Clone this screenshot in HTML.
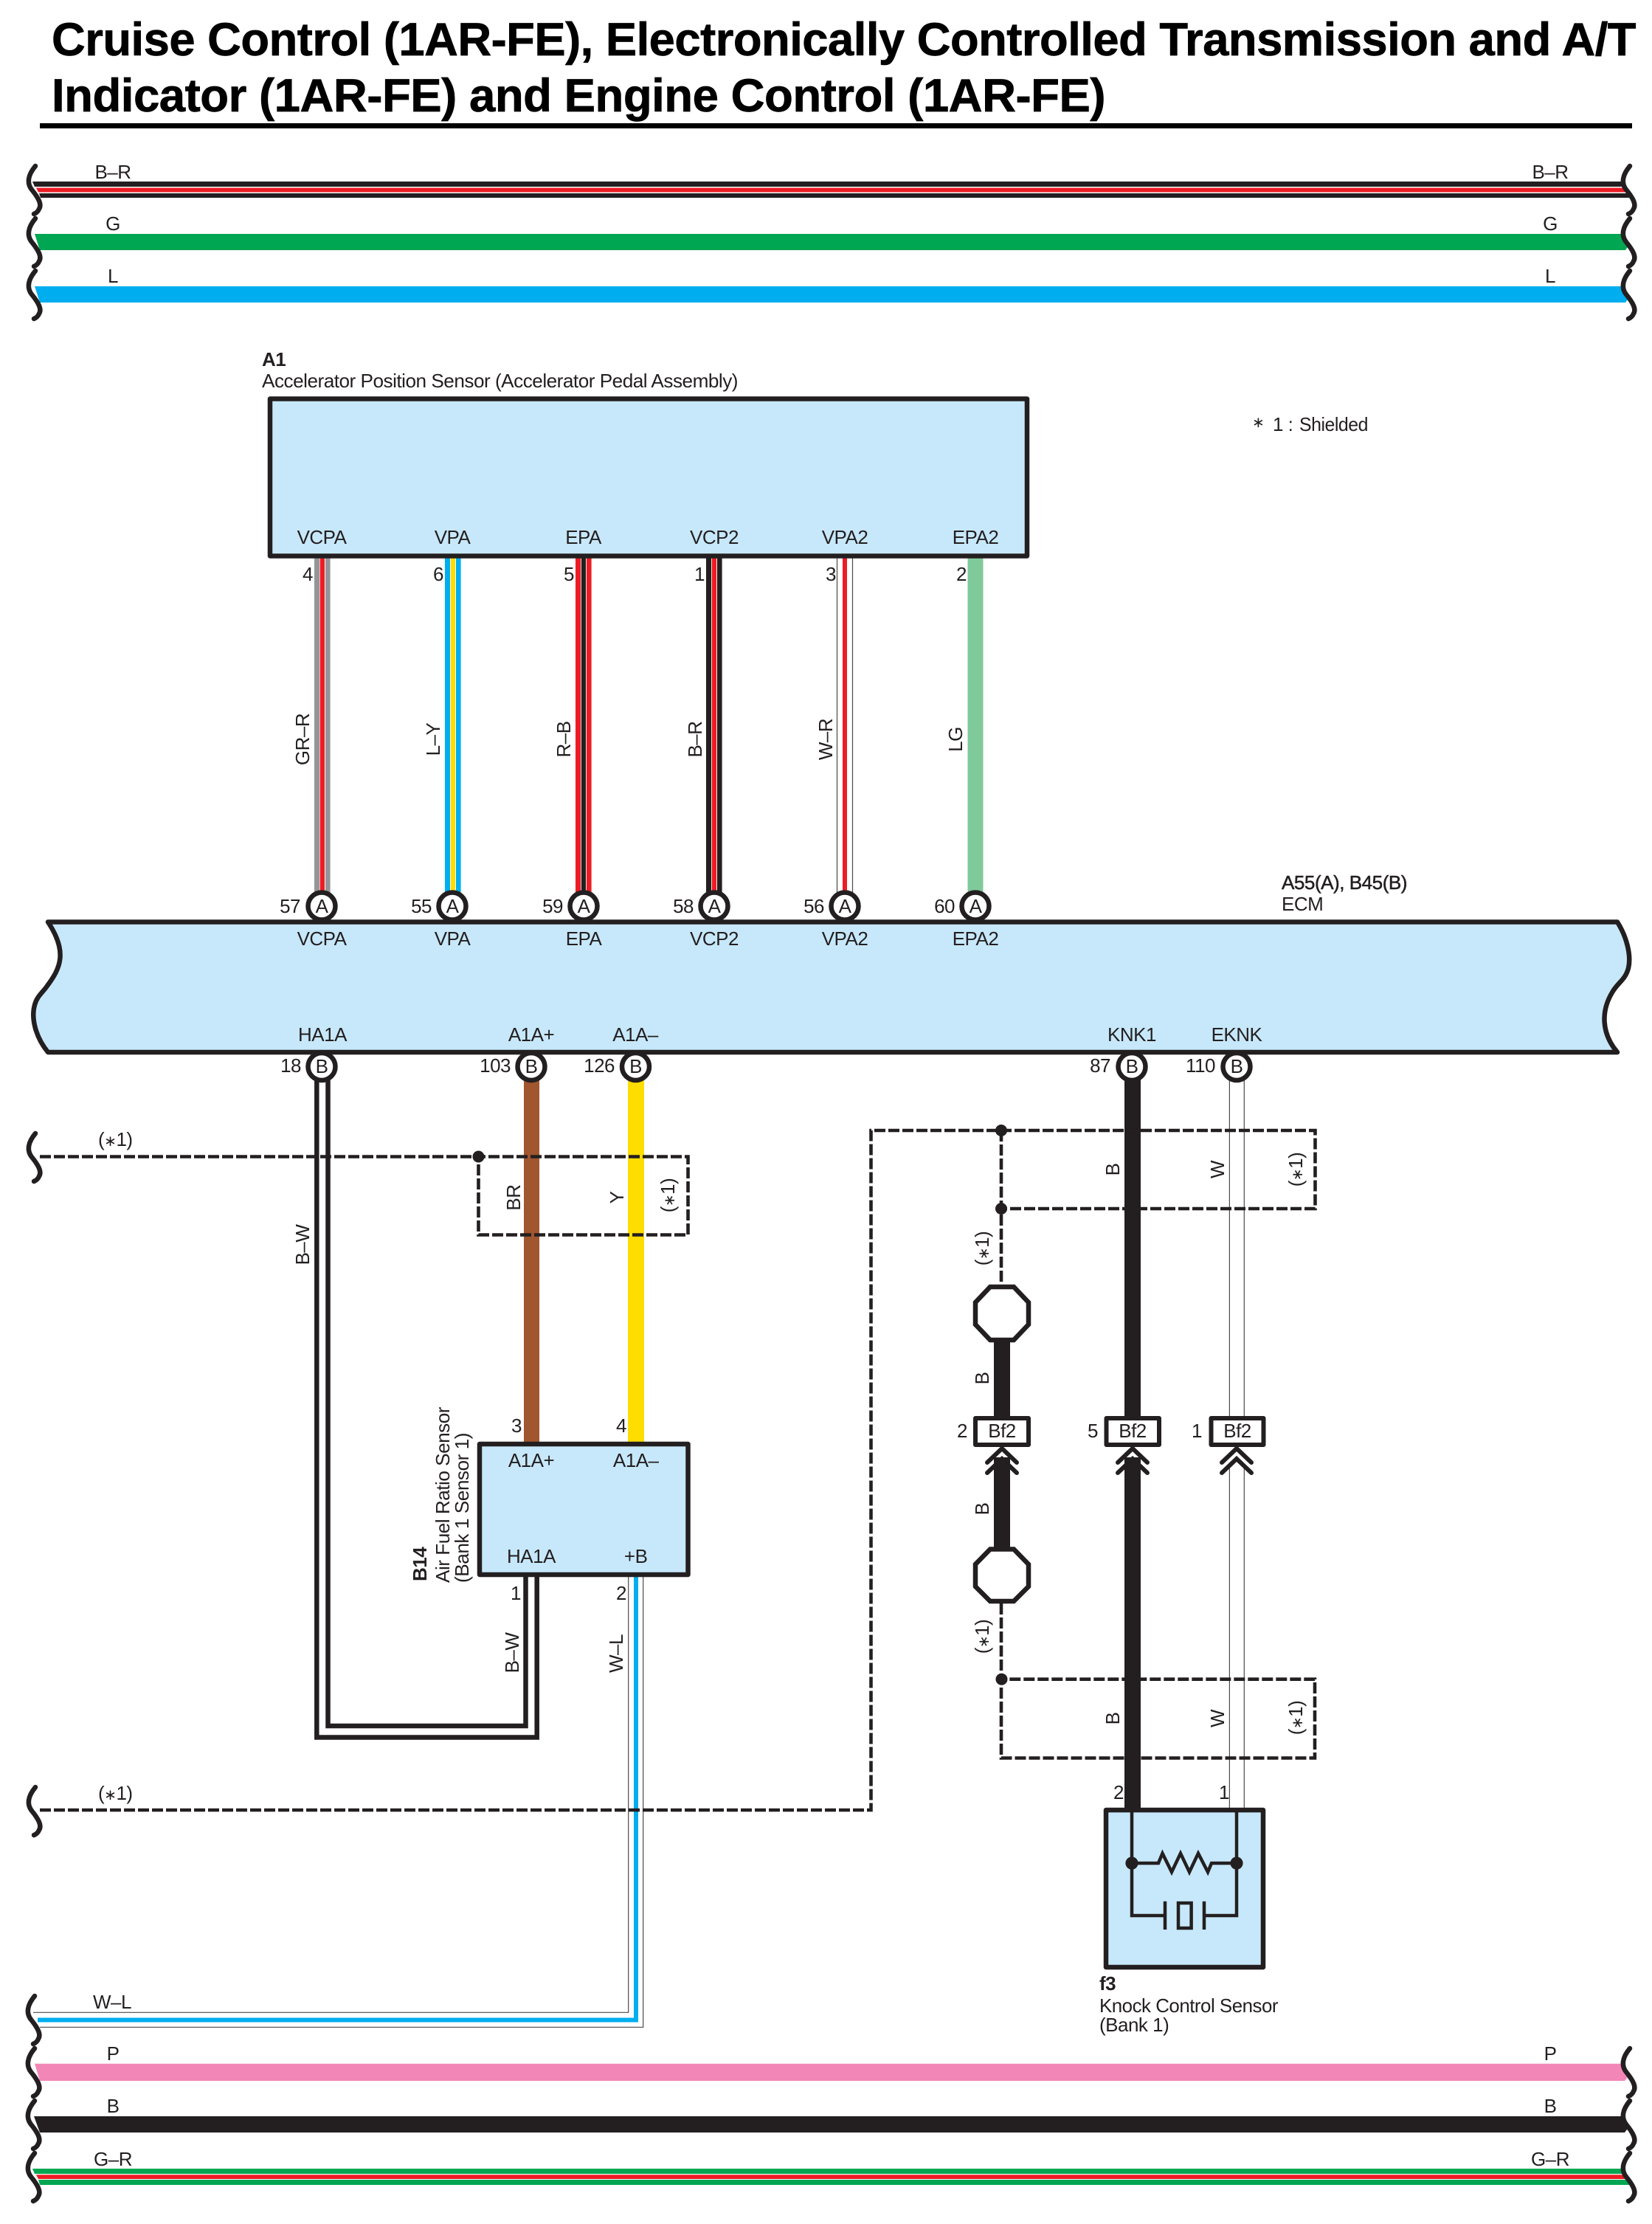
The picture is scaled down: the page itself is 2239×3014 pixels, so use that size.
<!DOCTYPE html>
<html><head><meta charset="utf-8"><title>Cruise Control Wiring Diagram</title>
<style>
html,body{margin:0;padding:0;background:#fff}
svg{display:block}
text{font-family:"Liberation Sans",sans-serif;font-size:26px;letter-spacing:-.5px;fill:#231f20}
.c{text-anchor:middle}.e{text-anchor:end}.b{font-weight:bold}
.s{font-size:20px}
.br{fill:none;stroke:#231f20;stroke-width:6.5;stroke-linecap:round}
.d{fill:none;stroke:#231f20;stroke-width:4.6;stroke-dasharray:15 4}
.t{fill:none;stroke:#4a4a4a;stroke-width:1.2}
.box{fill:#c7e8fa;stroke:#231f20;stroke-width:6.5;stroke-linejoin:round}
.cir{fill:#fff;stroke:#231f20;stroke-width:6.5}
.oct{fill:#fff;stroke:#231f20;stroke-width:6.5}
.bf{fill:#fff;stroke:#231f20;stroke-width:6;stroke-linejoin:round}
.chev{fill:none;stroke:#231f20;stroke-width:6;stroke-linecap:round}
.k{fill:none;stroke:#231f20;stroke-width:4.5}
</style></head>
<body>
<svg xmlns="http://www.w3.org/2000/svg" width="2239" height="3014" viewBox="0 0 2239 3014">
<defs>
<path id="brc" class="br" d="M48,2 C38,14 36,25 43,34 C52,45 57,54 53,60 C52,63 49,66 46,67"/>
</defs>
<rect width="2239" height="3014" fill="#fff"/>

<!-- Title -->
<text x="70" y="75" class="b" style="font-size:63px;fill:#000;stroke:#000;stroke-width:.7" textLength="2147" lengthAdjust="spacingAndGlyphs">Cruise Control (1AR-FE), Electronically Controlled Transmission and A/T</text>
<text x="70" y="151" class="b" style="font-size:63px;fill:#000;stroke:#000;stroke-width:.7" textLength="1428" lengthAdjust="spacingAndGlyphs">Indicator (1AR-FE) and Engine Control (1AR-FE)</text>
<rect x="54" y="167" width="2158" height="7" fill="#000"/>

<!-- Top buses -->
<polygon points="44,246 2200,246 2204,253 47,253" fill="#231f20"/>
<polygon points="49,254.5 2205,254.5 2208,260.5 52,260.5" fill="#ed1c24"/>
<polygon points="53,262 2208,262 2211,268 55,268" fill="#231f20"/>
<polygon points="47,317 2201,317 2208,332 2203,339 54,339" fill="#00a651"/>
<polygon points="47,388 2201,388 2208,403 2203,410 54,410" fill="#00aeef"/>
<use href="#brc" x="0" y="223"/><use href="#brc" x="0" y="294"/><use href="#brc" x="0" y="365"/>
<use href="#brc" x="2161" y="223"/><use href="#brc" x="2161" y="294"/><use href="#brc" x="2161" y="365"/>
<text x="153" y="242" class="c">B–R</text><text x="153" y="312" class="c">G</text><text x="153" y="383" class="c">L</text>
<text x="2101" y="242" class="c">B–R</text><text x="2101" y="312" class="c">G</text><text x="2101" y="383" class="c">L</text>

<!-- A1 wires -->
<rect x="426" y="755" width="7" height="456" fill="#939598"/><rect x="433.7" y="755" width="6.3" height="456" fill="#ed1c24"/><rect x="441" y="755" width="6.6" height="456" fill="#939598"/>
<rect x="603" y="755" width="7" height="456" fill="#00aeef"/><rect x="610.8" y="755" width="6.3" height="456" fill="#ffdd00"/><rect x="618" y="755" width="6.6" height="456" fill="#00aeef"/>
<rect x="780" y="755" width="7" height="456" fill="#ed1c24"/><rect x="787.8" y="755" width="6.3" height="456" fill="#231f20"/><rect x="795" y="755" width="6.6" height="456" fill="#ed1c24"/>
<rect x="957" y="755" width="7" height="456" fill="#231f20"/><rect x="964.8" y="755" width="6.3" height="456" fill="#ed1c24"/><rect x="972" y="755" width="6.6" height="456" fill="#231f20"/>
<path class="t" d="M1134.5,755V1211M1155.5,755V1211"/><rect x="1142" y="755" width="6" height="456" fill="#ed1c24"/>
<rect x="1311.5" y="755" width="21" height="456" fill="#80c99b"/>

<!-- A1 box -->
<rect class="box" x="366" y="540.5" width="1026" height="213"/>
<text x="355" y="496" class="b">A1</text>
<text x="355" y="525" textLength="645" lengthAdjust="spacingAndGlyphs">Accelerator Position Sensor (Accelerator Pedal Assembly)</text>
<text x="436" y="737" class="c">VCPA</text><text x="613" y="737" class="c">VPA</text><text x="790.5" y="737" class="c">EPA</text><text x="968" y="737" class="c">VCP2</text><text x="1145" y="737" class="c">VPA2</text><text x="1322" y="737" class="c">EPA2</text>
<text x="424" y="787" class="e">4</text><text x="601" y="787" class="e">6</text><text x="778" y="787" class="e">5</text><text x="955" y="787" class="e">1</text><text x="1133" y="787" class="e">3</text><text x="1310" y="787" class="e">2</text>
<text transform="translate(419,1002) rotate(-90)" class="c">GR–R</text>
<text transform="translate(596,1002) rotate(-90)" class="c">L–Y</text>
<text transform="translate(773,1002) rotate(-90)" class="c">R–B</text>
<text transform="translate(951,1002) rotate(-90)" class="c">B–R</text>
<text transform="translate(1128,1002) rotate(-90)" class="c">W–R</text>
<text transform="translate(1304,1002) rotate(-90)" class="c">LG</text>
<text x="1697" y="579" class="s">∗</text><text x="1725" y="584">1 :</text><text x="1761" y="584" textLength="93" lengthAdjust="spacingAndGlyphs">Shielded</text>

<!-- ECM -->
<path class="box" d="M65,1249.5 L2192,1249.5 C2205,1270 2211,1295 2207,1312 C2203,1328 2192,1332 2185,1345 C2170,1370 2170,1400 2192,1426 L65,1426 C48,1405 42,1380 47,1362 C50,1350 58,1345 64,1336 C82,1312 92,1290 65,1249.5 Z"/>
<text x="1737" y="1205" textLength="170" lengthAdjust="spacingAndGlyphs" style="stroke:#231f20;stroke-width:.5">A55(A), B45(B)</text>
<text x="1737" y="1234">ECM</text>
<g>
<circle class="cir" cx="436" cy="1228" r="18.5"/><circle class="cir" cx="613" cy="1228" r="18.5"/><circle class="cir" cx="791" cy="1228" r="18.5"/><circle class="cir" cx="968" cy="1228" r="18.5"/><circle class="cir" cx="1145" cy="1228" r="18.5"/><circle class="cir" cx="1322" cy="1228" r="18.5"/>
<text x="436" y="1237" class="c">A</text><text x="613" y="1237" class="c">A</text><text x="791" y="1237" class="c">A</text><text x="968" y="1237" class="c">A</text><text x="1145" y="1237" class="c">A</text><text x="1322" y="1237" class="c">A</text>
<text x="407" y="1237" class="e">57</text><text x="585" y="1237" class="e">55</text><text x="763" y="1237" class="e">59</text><text x="940" y="1237" class="e">58</text><text x="1117" y="1237" class="e">56</text><text x="1294" y="1237" class="e">60</text>
</g>
<text x="436" y="1281" class="c">VCPA</text><text x="613" y="1281" class="c">VPA</text><text x="791" y="1281" class="c">EPA</text><text x="968" y="1281" class="c">VCP2</text><text x="1145" y="1281" class="c">VPA2</text><text x="1322" y="1281" class="c">EPA2</text>
<text x="437" y="1411" class="c">HA1A</text><text x="720" y="1411" class="c">A1A+</text><text x="861" y="1411" class="c">A1A–</text><text x="1534" y="1411" class="c">KNK1</text><text x="1676" y="1411" class="c">EKNK</text>

<!-- lower wires -->
<path d="M429.3,1460V2354.5H727.7V2137M444.5,1460V2339H712.5V2137" fill="none" stroke="#231f20" stroke-width="6.5"/>
<rect x="710" y="1460" width="21" height="496" fill="#a0562e"/>
<rect x="851" y="1460" width="22" height="496" fill="#ffdd00"/>
<path class="t" d="M851.7,2137V2727.3H45M871.7,2137V2747.3H54"/>
<path d="M862,2137V2737.5H51" fill="none" stroke="#00aeef" stroke-width="6"/>
<rect x="1524" y="1460" width="22" height="462" fill="#231f20"/>
<rect x="1524" y="1975" width="22" height="477" fill="#231f20"/>
<path class="t" d="M1666.4,1460V1920M1686.3,1460V1920M1666.4,1990V2452M1686.3,1990V2452"/>
<rect x="1347" y="1817" width="22" height="104" fill="#231f20"/>
<rect x="1347" y="1975" width="22" height="124" fill="#231f20"/>

<!-- B circles -->
<circle class="cir" cx="436" cy="1445.5" r="18.5"/><circle class="cir" cx="720" cy="1445.5" r="18.5"/><circle class="cir" cx="861.5" cy="1445.5" r="18.5"/><circle class="cir" cx="1534" cy="1445.5" r="18.5"/><circle class="cir" cx="1676" cy="1445.5" r="18.5"/>
<text x="436" y="1454" class="c">B</text><text x="720" y="1454" class="c">B</text><text x="861.5" y="1454" class="c">B</text><text x="1534" y="1454" class="c">B</text><text x="1676" y="1454" class="c">B</text>
<text x="408" y="1453" class="e">18</text><text x="692" y="1453" class="e">103</text><text x="833" y="1453" class="e">126</text><text x="1505" y="1453" class="e">87</text><text x="1647" y="1453" class="e">110</text>

<!-- Shields -->
<use href="#brc" x="0" y="1534"/>
<path class="d" d="M54,1567.5H932.5V1673.5H648.5V1567.5"/>
<circle cx="648.5" cy="1567.5" r="8" fill="#231f20"/>
<text x="133" y="1553">(<tspan class="s">∗</tspan>1)</text>
<text transform="translate(705,1623) rotate(-90)" class="c">BR</text>
<text transform="translate(845,1623) rotate(-90)" class="c">Y</text>
<text transform="translate(914,1620) rotate(-90)" class="c">(<tspan class="s">∗</tspan>1)</text>
<text transform="translate(419,1687) rotate(-90)" class="c">B–W</text>

<use href="#brc" x="0" y="2420"/>
<path class="d" d="M54,2453H1180.5V1532H1782.5V1638H1357M1357,1532V1742"/>
<text x="133" y="2439">(<tspan class="s">∗</tspan>1)</text>
<circle cx="1357" cy="1532" r="8" fill="#231f20"/><circle cx="1357" cy="1638" r="8" fill="#231f20"/>
<text transform="translate(1517,1585) rotate(-90)" class="c">B</text>
<text transform="translate(1659,1585) rotate(-90)" class="c">W</text>
<text transform="translate(1765,1585) rotate(-90)" class="c">(<tspan class="s">∗</tspan>1)</text>
<text transform="translate(1340,1692) rotate(-90)" class="c">(<tspan class="s">∗</tspan>1)</text>

<path class="d" d="M1357,2173V2382.5H1782V2275.7H1357"/>
<circle cx="1357.5" cy="2275.7" r="8" fill="#231f20"/>
<text transform="translate(1517,2329) rotate(-90)" class="c">B</text>
<text transform="translate(1659,2329) rotate(-90)" class="c">W</text>
<text transform="translate(1765,2328) rotate(-90)" class="c">(<tspan class="s">∗</tspan>1)</text>
<text transform="translate(1340,2218) rotate(-90)" class="c">(<tspan class="s">∗</tspan>1)</text>

<!-- Octagons -->
<polygon class="oct" points="1342,1744 1374,1744 1394,1765 1394,1795 1374,1816 1342,1816 1322,1795 1322,1765"/>
<polygon class="oct" points="1342,2099.5 1374,2099.5 1394,2120 1394,2150 1374,2170 1342,2170 1322,2150 1322,2120"/>
<text transform="translate(1340,1868) rotate(-90)" class="c">B</text>
<text transform="translate(1340,2045) rotate(-90)" class="c">B</text>

<!-- Bf2 connectors -->
<rect class="bf" x="1322" y="1922" width="72" height="36"/><rect class="bf" x="1499.5" y="1922" width="71.5" height="36"/><rect class="bf" x="1641.5" y="1922" width="71" height="36"/>
<text x="1358" y="1948" class="c">Bf2</text><text x="1535" y="1948" class="c">Bf2</text><text x="1677" y="1948" class="c">Bf2</text>
<text x="1311" y="1948" class="e">2</text><text x="1488" y="1948" class="e">5</text><text x="1629" y="1948" class="e">1</text>
<path class="chev" d="M1338,1982 L1358,1963 L1378,1982 M1338,1996 L1358,1977 L1378,1996"/>
<path class="chev" d="M1515,1982 L1535,1963 L1555,1982 M1515,1996 L1535,1977 L1555,1996"/>
<path class="chev" d="M1656,1982 L1676,1963 L1696,1982 M1656,1996 L1676,1977 L1696,1996"/>

<!-- B14 -->
<rect class="box" x="650" y="1957" width="282.5" height="177"/>
<text x="720" y="1988" class="c">A1A+</text><text x="861.7" y="1988" class="c">A1A–</text><text x="720" y="2118" class="c">HA1A</text><text x="861.7" y="2118" class="c">+B</text>
<text x="707" y="1941" class="e">3</text><text x="849" y="1941" class="e">4</text><text x="706" y="2168" class="e">1</text><text x="849" y="2168" class="e">2</text>
<text transform="translate(578,2143) rotate(-90)" class="b">B14</text>
<text transform="translate(609,2145) rotate(-90)" textLength="238" lengthAdjust="spacingAndGlyphs">Air Fuel Ratio Sensor</text>
<text transform="translate(635,2145) rotate(-90)" textLength="203" lengthAdjust="spacingAndGlyphs">(Bank 1 Sensor 1)</text>
<text transform="translate(703,2240) rotate(-90)" class="c">B–W</text>
<text transform="translate(844,2241) rotate(-90)" class="c">W–L</text>

<!-- Knock sensor -->
<rect class="box" x="1499" y="2453" width="213" height="213"/>
<path class="k" d="M1534,2453V2596H1579M1676,2453V2596H1632"/>
<path class="k" d="M1534,2525H1570L1575.5,2511.7L1588,2537L1600,2511.7L1612,2537L1624,2511.7L1637,2537L1642,2525H1676"/>
<circle cx="1534" cy="2525" r="8.6" fill="#231f20"/><circle cx="1676" cy="2525" r="8.6" fill="#231f20"/>
<path class="k" d="M1579,2576.7V2615M1632,2576.7V2615"/>
<rect class="k" x="1597" y="2579" width="17.6" height="34"/>
<text x="1509" y="2438">2</text><text x="1652" y="2438">1</text>
<text x="1490" y="2697" class="b">f3</text>
<text x="1490" y="2727" textLength="242" lengthAdjust="spacingAndGlyphs">Knock Control Sensor</text>
<text x="1490" y="2753">(Bank 1)</text>

<!-- Bottom buses -->
<use href="#brc" x="-1" y="2703"/>
<text x="152" y="2722" class="c">W–L</text>
<polygon points="47,2796.7 2201,2796.7 2208,2813 2202,2820 54,2820" fill="#f287b7"/>
<polygon points="46,2868 2201,2868 2208,2882 2202,2890 54,2890" fill="#231f20"/>
<polygon points="44,2939 2200,2939 2203,2946 47,2946" fill="#00a651"/>
<polygon points="49,2947.3 2205,2947.3 2207,2953 52,2953" fill="#ed1c24"/>
<polygon points="52,2954 2208,2954 2210,2961 54,2961" fill="#00a651"/>
<use href="#brc" x="-1" y="2774"/><use href="#brc" x="-1" y="2845"/><use href="#brc" x="-1" y="2916"/>
<use href="#brc" x="2161" y="2774"/><use href="#brc" x="2161" y="2845"/><use href="#brc" x="2161" y="2916"/>
<text x="153" y="2792" class="c">P</text><text x="153" y="2863" class="c">B</text><text x="153" y="2935" class="c">G–R</text>
<text x="2101" y="2792" class="c">P</text><text x="2101" y="2863" class="c">B</text><text x="2101" y="2935" class="c">G–R</text>
</svg>
</body></html>
